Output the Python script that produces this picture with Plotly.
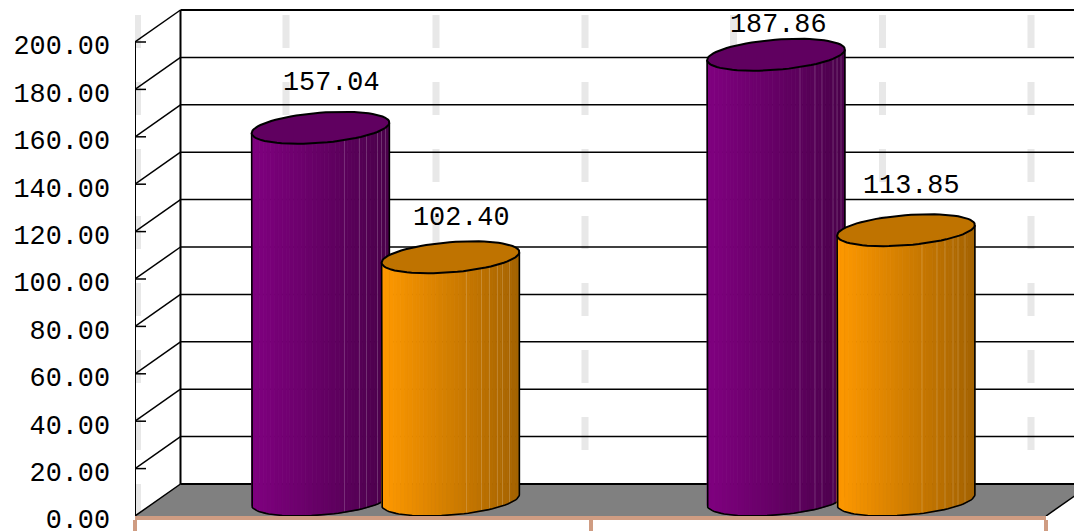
import math
import plotly.graph_objects as go

# ---------- data ----------
group_positions = [0.5, 1.5]
series_a = [157.04, 187.86]
series_b = [102.40, 113.85]
y_ticks = [0, 20, 40, 60, 80, 100, 120, 140, 160, 180, 200]
y_tick_labels = [f"{v:.2f}" for v in y_ticks]

# ---------- geometry (data units) ----------
W, H = 1074, 531
PX_X = 455.5           # px per category
PX_Y = 2.37            # px per value unit
LEFT, RIGHT2, RIGHT1 = 135, 1074, 1046
BOTTOM = 516
DEPTH_X = 45.5 / PX_X
DEPTH_Y = 32.0 / PX_Y
X2_MAX = (RIGHT2 - LEFT) / PX_X
Y_MAX = BOTTOM / PX_Y
BAR_OFFSET = 65.0 / PX_X
BAR_RX = 65.0 / PX_X
FONT = "Liberation Mono"
FONT_SIZE = 26.8

fig = go.Figure()


def add(x, y, color="black", width=1.5, fill=None, dash=None):
    fig.add_trace(go.Scatter(
        x=x, y=y, mode="lines", xaxis="x2", yaxis="y", cliponaxis=False if dash is None and fill is None else True,
        line=dict(color=color, width=width, dash=dash),
        fill="toself" if fill else None, fillcolor=fill,
        hoverinfo="skip", showlegend=False,
    ))


# invisible trace that keeps the lower x axis (salmon line and ticks) alive
fig.add_trace(go.Scatter(x=[0, 2], y=[0, 0], mode="lines", xaxis="x", yaxis="y",
                         line=dict(width=0), opacity=0, hoverinfo="skip", showlegend=False))

# light dashed vertical gridlines
dash_x = [(px - LEFT) / PX_X for px in [137.5, 286, 436, 585, 733.5, 882.5, 1031]]
for dx in dash_x:
    add([dx, dx], [(BOTTOM - 15) / PX_Y, 0], color="#e8e8e8", width=7, dash="33px,34px")

# floor
add([0, DEPTH_X, 2 + DEPTH_X, 2, 0], [0, DEPTH_Y, DEPTH_Y, 0, 0], color="#808080", width=0.5, fill="#808080")
add([DEPTH_X, X2_MAX], [DEPTH_Y, DEPTH_Y], width=2.2)
add([2, 2 + DEPTH_X], [0, DEPTH_Y], width=1.5)

# wall grid
for v in y_ticks[1:]:
    add([0, DEPTH_X], [v, v + DEPTH_Y], width=1.5)
    add([DEPTH_X, X2_MAX], [v + DEPTH_Y, v + DEPTH_Y], width=2 if v == 200 else 1.5)
    add([0, 11 / PX_X], [v, v], width=1.5)
add([0, DEPTH_X], [0, DEPTH_Y], width=1.5)
add([0, 0], [0, 200], width=2)
add([DEPTH_X, DEPTH_X], [DEPTH_Y, 200 + DEPTH_Y], width=2)


def shade(rgb, f):
    return "rgb(%d,%d,%d)" % tuple(round(c * f) for c in rgb)


def cylinder(center, value, rgb, light_px, end_shade):
    cx = center + DEPTH_X / 2
    hx, hy = DEPTH_X / 2, DEPTH_Y / 2
    base_y, top_y = hy, value + hy
    phi = math.atan2(hx, BAR_RX)
    R = math.hypot(BAR_RX, hx)

    def arc_at(s):
        t = math.pi + phi + s
        return cx + BAR_RX * math.cos(t) + hx * math.sin(t), hy * math.sin(t)

    n = 36
    ss = [math.acos(1 - 2 * i / n) for i in range(n + 1)]
    for i in range(n):
        u = (i + 0.5) / n
        f = 1 - (1 - end_shade) * u
        x0, d0 = arc_at(ss[i])
        x1, d1 = arc_at(ss[i + 1])
        col = shade(rgb, f)
        add([x0, x1, x1, x0, x0],
            [base_y + d0, base_y + d1, top_y + d1, top_y + d0, base_y + d0],
            color=col, width=0.8, fill=col)
    for p in light_px:
        s = math.acos(-(p / PX_X) / R)
        x0, d0 = arc_at(s)
        add([x0, x0], [base_y + d0, top_y + d0], color="rgba(255,255,255,0.18)", width=1)
    m = 48
    outline = [arc_at(math.pi * i / m) for i in range(m + 1)]
    xs = [outline[0][0]] + [o[0] for o in outline] + [outline[-1][0]]
    ys = [top_y + outline[0][1]] + [base_y + o[1] for o in outline] + [top_y + outline[-1][1]]
    add(xs, ys, width=1.6)
    ex, ey = [], []
    for i in range(73):
        t = 2 * math.pi * i / 72
        ex.append(cx + BAR_RX * math.cos(t) + hx * math.sin(t))
        ey.append(top_y + hy * math.sin(t))
    add(ex, ey, width=2, fill=shade(rgb, 0.75))


PURPLE = (128, 0, 128)
ORANGE = (255, 153, 0)
streak_a = [24, 39, 46, 57, 61, 65]
streak_b = [16, 31, 39, 47, 52, 59]
for i, g in enumerate(group_positions):
    cylinder(g - BAR_OFFSET, series_a[i], PURPLE, streak_a, 0.58)
    cylinder(g + BAR_OFFSET, series_b[i], ORANGE, streak_b, 0.64)

# data labels, each nudged the way the original placed them
label_shift_a = [(11, 61), (2.5, 46)]
label_shift_b = [(10.5, 55), (5.5, 60)]
annots = []
for i, g in enumerate(group_positions):
    for val, off, shifts in ((series_a[i], -BAR_OFFSET, label_shift_a), (series_b[i], BAR_OFFSET, label_shift_b)):
        annots.append(dict(
            x=g + off + DEPTH_X / 2, y=val, xref="x2", yref="y", text=f"{val:.2f}", showarrow=False,
            xshift=shifts[i][0], yshift=shifts[i][1],
            font=dict(family=FONT, size=FONT_SIZE, color="black"),
        ))

fig.update_layout(
    width=W, height=H, autosize=False,
    margin=dict(l=0, r=0, t=0, b=0, pad=0, autoexpand=False),
    paper_bgcolor="white", plot_bgcolor="white", showlegend=False,
    annotations=annots,
    xaxis=dict(domain=[LEFT / W, RIGHT1 / W], range=[0, 2], anchor="y", automargin=False,
               showgrid=False, zeroline=False, showticklabels=False,
               showline=True, linecolor="#cf9c82", linewidth=4,
               ticks="outside", ticklen=12, tickwidth=4, tickcolor="#cf9c82",
               tickvals=[0, 1, 2], fixedrange=True),
    xaxis2=dict(domain=[LEFT / W, RIGHT2 / W], range=[0, X2_MAX], anchor="y", automargin=False,
                showgrid=False, zeroline=False, showticklabels=False, showline=False,
                ticks="", fixedrange=True),
    yaxis=dict(domain=[(H - BOTTOM) / H, 1], range=[0, Y_MAX], anchor="x", automargin=False,
               showgrid=False, zeroline=False, showline=False, ticks="",
               tickvals=y_ticks, ticktext=y_tick_labels, ticklabelstandoff=24, ticklabelshift=3,
               ticklabeloverflow="allow",
               tickfont=dict(family=FONT, size=FONT_SIZE, color="black"), fixedrange=True),
)

fig.write_html("out.html", config=dict(displayModeBar=False),
               post_script="document.body.style.margin='0';document.documentElement.style.overflow='hidden';")
